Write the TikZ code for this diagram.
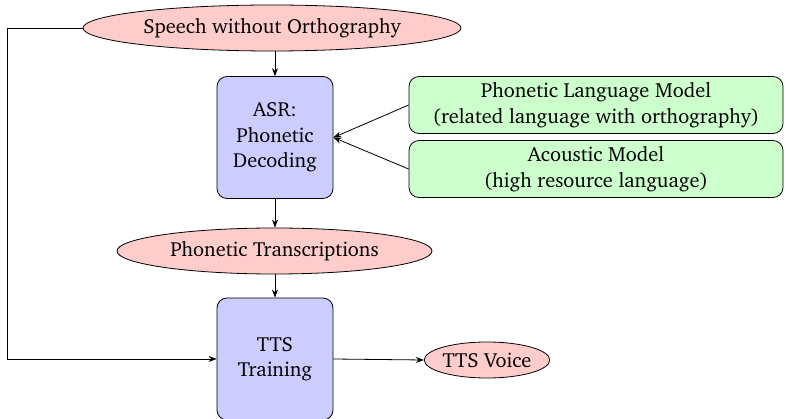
\documentclass[tikz,border=0pt]{standalone}
\usepackage[T1]{fontenc}
\usepackage{charter}
\usetikzlibrary{shapes.geometric,arrows.meta}
\definecolor{ellfill}{RGB}{255,204,204}
\definecolor{boxfill}{RGB}{204,204,255}
\definecolor{grnfill}{RGB}{204,255,204}
\tikzset{
  every node/.style={font=\fontsize{20.4}{25.5}\selectfont},
  ell/.style={ellipse, draw, fill=ellfill, line width=0.8pt, inner sep=0pt},
  procbox/.style={rectangle, rounded corners=10pt, draw, fill=boxfill, line width=0.8pt, minimum width=116pt, minimum height=122pt, align=center},
  modelbox/.style={rectangle, rounded corners=10pt, draw, fill=grnfill, line width=0.8pt, minimum width=374pt, minimum height=57pt, align=center, inner sep=0pt},
  conn/.style={draw, line width=0.8pt, -{Stealth[length=8pt,width=6pt]}},
}
\begin{document}
\begin{tikzpicture}[x=1pt,y=-1pt]
\useasboundingbox (0,0) rectangle (789,419);
\node[ell, minimum width=378pt, minimum height=46pt] (speech) at (272,28) {Speech without Orthography};
\node[procbox] (asr) at (275,137.5) {ASR:\\Phonetic\\Decoding};
\node[modelbox] (plm) at (596,105) {Phonetic Language Model\\(related language with orthography)};
\node[modelbox] (am) at (596,169) {Acoustic Model\\(high resource language)};
\node[ell, minimum width=315pt, minimum height=46pt] (trans) at (274.5,251) {Phonetic Transcriptions};
\node[procbox] (tts) at (275,359) {TTS\\Training};
\node[ell, minimum width=118pt, minimum height=36pt] (voice) at (487,360) {TTS Voice};
\coordinate (corner) at (7,28);
\coordinate (corner2) at (7,359);
\draw[conn] (asr.north |- speech.south) -- (asr.north);
\draw[conn] (plm.west) -- (asr.east);
\draw[conn] (am.west) -- (asr.east);
\draw[conn] (asr.south) -- (trans.north -| asr.south);
\draw[conn] (trans.south -| tts.north) -- (tts.north);
\draw[conn] (tts.east) -- (voice.west);
\draw[conn] (speech.west) -- (corner) -- (corner2) -- (tts.west);
\end{tikzpicture}
\end{document}
